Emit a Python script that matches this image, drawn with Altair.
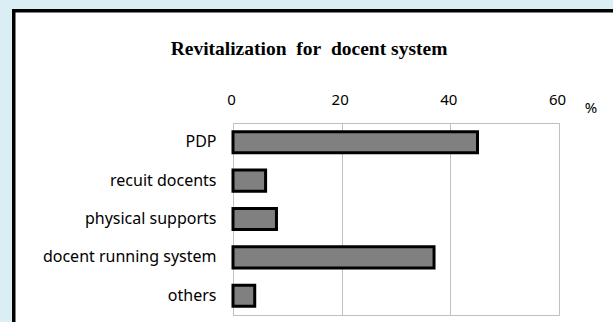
import altair as alt
import pandas as pd

# Survey answers: how to revitalize the docent system (share of respondents, %)
categories = ["PDP", "recuit docents", "physical supports", "docent running system", "others"]
percents = [45, 6, 8, 37, 4]
x_ticks = [0, 20, 40, 60]

df = pd.DataFrame({"category": categories, "percent": percents})
one = pd.DataFrame({"k": [0]})

W, H = 326, 192
LABEL_FONT = "Noto Sans"
NBSP = "\u00a0"

bars = alt.Chart(df).mark_bar(
    color="#808080", stroke="black", strokeWidth=3
).encode(
    x=alt.X(
        "percent:Q",
        scale=alt.Scale(domain=[0, 60], nice=False),
        axis=alt.Axis(
            orient="top", values=x_ticks, title=None, grid=True,
            gridColor="#c0c0c0", gridWidth=1, ticks=False, domain=False,
            labelFont=LABEL_FONT, labelFontSize=15, labelColor="#000000",
            labelPadding=16, labelFlush=False, labelOffset=-2,
        ),
    ),
    y=alt.Y(
        "category:N",
        sort=categories,
        scale=alt.Scale(paddingInner=0.45, paddingOuter=0.225),
        axis=alt.Axis(
            title=None, ticks=False, domain=False,
            labelFont=LABEL_FONT, labelFontSize=16, labelColor="#000000",
            labelPadding=17,
        ),
    ),
)

# Light blue page margin on the left and top, with the black frame edge
left_strip = alt.Chart(one).mark_rect(color="#dbeef4").encode(
    x=alt.value(-240), x2=alt.value(-221), y=alt.value(-130), y2=alt.value(210)
)
top_strip = alt.Chart(one).mark_rect(color="#dbeef4").encode(
    x=alt.value(-240), x2=alt.value(400), y=alt.value(-130), y2=alt.value(-114)
)
frame_left = alt.Chart(one).mark_rule(color="black", strokeWidth=3.5).encode(
    x=alt.value(-219.25), y=alt.value(-114), y2=alt.value(210)
)
frame_top = alt.Chart(one).mark_rule(color="black", strokeWidth=3.5).encode(
    x=alt.value(-221), x2=alt.value(400), y=alt.value(-112.25)
)

title = alt.Chart(one).mark_text(
    text=f"Revitalization{NBSP} for{NBSP} docent system",
    font="Liberation Serif", fontWeight="bold", fontSize=19.5,
    color="black", align="center", baseline="middle",
).encode(x=alt.value(76), y=alt.value(-74))

unit = alt.Chart(one).mark_text(
    text="%", font=LABEL_FONT, fontSize=15, color="black",
    align="center", baseline="middle",
).encode(x=alt.value(358), y=alt.value(-15))

chart = alt.layer(
    left_strip, top_strip, frame_left, frame_top, bars, title, unit
).properties(
    width=W, height=H,
    background="white",
    padding={"left": 233, "top": 123, "right": 54, "bottom": 7},
    autosize=alt.AutoSizeParams(type="none"),
).configure_view(
    stroke="#c0c0c0", strokeWidth=1
)

chart.save("out.html", embed_options={"renderer": "svg", "actions": False})
